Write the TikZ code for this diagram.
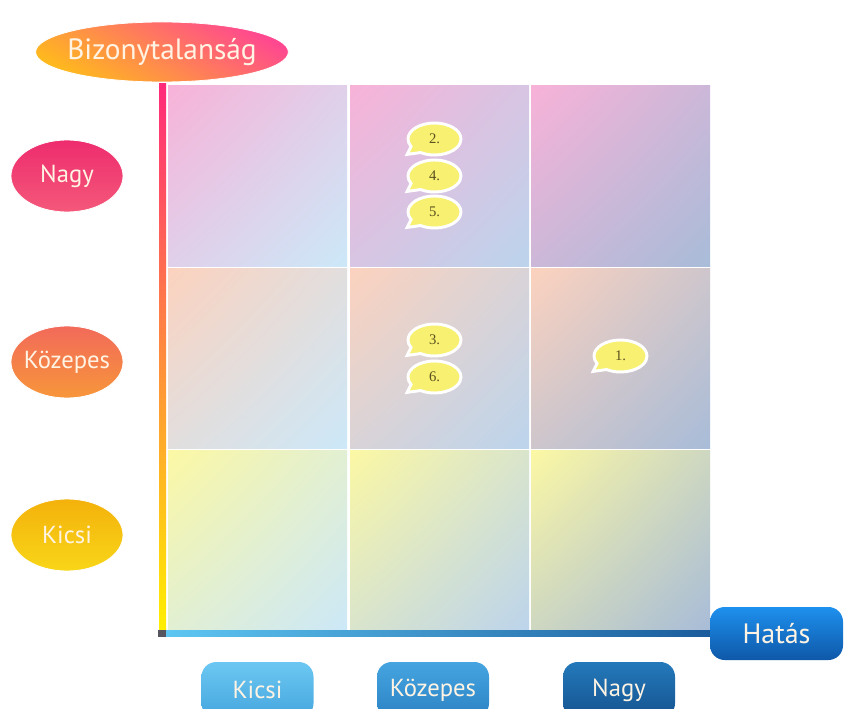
\documentclass[tikz,border=0pt]{standalone}
\usepackage{fontspec}
\setmainfont{PT Sans}
\newfontfamily\bubblefont{Liberation Serif}
\usetikzlibrary{shapes.geometric,shapes.callouts,shadings}
\definecolor{labeltext}{HTML}{FFF4E4}
\definecolor{bubblefill}{HTML}{F8F070}
\definecolor{bubbletext}{HTML}{5A5020}
\definecolor{rowtop}{HTML}{F8B2D8}
\definecolor{rowmid}{HTML}{FCD2BE}
\definecolor{rowlow}{HTML}{FCF8A4}
\definecolor{colone}{HTML}{CCE8F8}
\definecolor{coltwo}{HTML}{BCD4EC}
\definecolor{colthree}{HTML}{A8BCD8}
\definecolor{axistop}{HTML}{FF2A7A}
\definecolor{axismid}{HTML}{FF7A45}
\definecolor{axislow}{HTML}{FFEF00}
\definecolor{axisleft}{HTML}{5EC6F2}
\definecolor{axisright}{HTML}{1B5C9C}
\definecolor{corner}{HTML}{555560}
\definecolor{biztop}{HTML}{FF4890}
\definecolor{bizlow}{HTML}{FFB81E}
\definecolor{hightop}{HTML}{EE2C6E}
\definecolor{highlow}{HTML}{F4587A}
\definecolor{medtop}{HTML}{F26A5A}
\definecolor{medlow}{HTML}{F7963A}
\definecolor{smalltop}{HTML}{F4B20C}
\definecolor{smalllow}{HTML}{F8D618}
\definecolor{csmallA}{HTML}{6CC8F2}
\definecolor{csmallB}{HTML}{45A5DE}
\definecolor{cmedA}{HTML}{45A5E0}
\definecolor{cmedB}{HTML}{2C82C4}
\definecolor{chighA}{HTML}{2479BA}
\definecolor{chighB}{HTML}{155390}
\definecolor{impactA}{HTML}{1E90EE}
\definecolor{impactB}{HTML}{0E58A8}
\newdimen\pxu \pxu=0.75pt

\begin{document}
\begin{tikzpicture}[x=0.75pt,y=-0.75pt,
  tagtext/.style={text=labeltext,inner sep=0pt,font=\fontsize{18.5}{22}\selectfont},
  rowtag/.style={tagtext,ellipse,draw=white,line width=.6pt,inner xsep=-3.5pt,
    minimum width=112\pxu,minimum height=72\pxu},
  coltag/.style={tagtext,rectangle,rounded corners=11pt,minimum width=112\pxu,minimum height=56\pxu,shading angle=-60},
  bubble/.style={ellipse callout,fill=bubblefill,draw=white,line width=2.2pt,
    minimum width=53\pxu,minimum height=32\pxu,inner sep=0pt,
    callout relative pointer={(-8,4.5)},callout pointer arc=30,
    font=\bubblefont\fontsize{11}{12}\selectfont,text=bubbletext}]
\useasboundingbox (0,0) rectangle (845,709);
\clip (0,0) rectangle (845,709);
\fill[white] (0,0) rectangle (845,709);

% THE NINE CELLS: ROW TONE AT THE TOP LEFT, COLUMN TONE AT THE BOTTOM RIGHT
\foreach \rt/\ry in {rowtop/86,rowmid/268,rowlow/450}
  \foreach \ct/\cx in {colone/168,coltwo/350,colthree/531}
    \shade[upper left=\rt,lower right=\ct,upper right=\rt!45!\ct,lower left=\rt!45!\ct]
      (\cx,\ry) rectangle ++(179,180);

% AXES
\shade[top color=axistop,middle color=axismid,bottom color=axislow] (159,84) rectangle (166,630);
\shade[left color=axisleft,right color=axisright] (166,630) rectangle (710,636);
\fill[corner] (158,630) rectangle (166,637);

% UNCERTAINTY AXIS AND ITS LEVELS
\node[rowtag,top color=biztop,bottom color=bizlow,shading angle=-30,inner xsep=-4pt,
  minimum width=249\pxu,minimum height=60\pxu,font=\fontsize{22}{26}\selectfont] (uncert) at (162,52) {Bizonytalanság};
\node[rowtag,top color=hightop,bottom color=highlow] (rowhigh) at (67,176) {Nagy};
\node[rowtag,top color=medtop,bottom color=medlow] (rowmed) at (67,362) {Közepes};
\node[rowtag,top color=smalltop,bottom color=smalllow] (rowsmall) at (67,535) {Kicsi};

% IMPACT AXIS AND ITS LEVELS
\node[coltag,top color=impactA,bottom color=impactB,minimum width=133\pxu,minimum height=53\pxu,
  font=\fontsize{21}{25}\selectfont] (impact) at (776.5,633.5) {Hatás};
\node[coltag,top color=csmallA,bottom color=csmallB] (colsmall) at (257.5,690) {Kicsi};
\node[coltag,top color=cmedA,bottom color=cmedB] (colmed) at (433,690) {Közepes};
\node[coltag,top color=chighA,bottom color=chighB] (colhigh) at (619,690) {Nagy};

% NUMBERED ITEMS
\node[bubble] (item2) at (434.5,139) {2.};
\node[bubble] (item4) at (434.5,176) {4.};
\node[bubble] (item5) at (434.5,212) {5.};
\node[bubble] (item3) at (434.5,340) {3.};
\node[bubble] (item6) at (434.5,377) {6.};
\node[bubble] (item1) at (620.5,356) {1.};
\end{tikzpicture}
\end{document}
